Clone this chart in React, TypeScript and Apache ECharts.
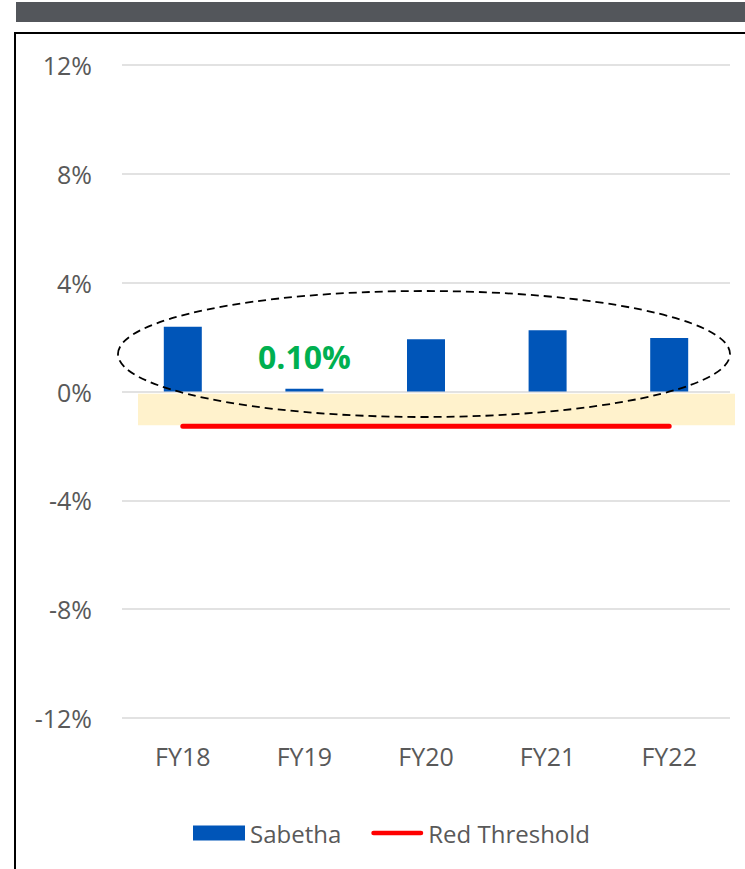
import React, { useEffect, useRef } from "react";
import * as echarts from "echarts";

const categories = ["FY18", "FY19", "FY20", "FY21", "FY22"];
const sabetha = [2.38, 0.1, 1.92, 2.25, 1.97];
const redThreshold = [-1.28, -1.28, -1.28, -1.28, -1.28];
const yTicks = { min: -12, max: 12, interval: 4 };
const bandRange = [-0.08, -1.24];
const highlightIndex = 1;

export default function App() {
  const ref = useRef<HTMLDivElement>(null);
  useEffect(() => {
    if (!ref.current) return;
    document.body.style.margin = "0";
    const chart = echarts.init(ref.current, null, { renderer: "svg" });
    const font = "'Open Sans', 'Noto Sans', sans-serif";
    chart.setOption({
      animation: false,
      textStyle: { fontFamily: font },
      grid: { left: 122, right: 15, top: 65, bottom: 151 },
      legend: {
        left: 188,
        top: 816,
        itemGap: 30,
        itemWidth: 52,
        itemHeight: 15,
        textStyle: { fontSize: 24, color: "#595959", fontFamily: font },
        data: [
          { name: "Sabetha", icon: "rect" },
          {
            name: "Red Threshold",
            icon: "path://M0,0L0,0M0,15L0,15M2.5,5h51a2.5,2.5 0 0 1 0,5h-51a2.5,2.5 0 0 1 0,-5z",
            itemStyle: { color: "#FF0000" },
          },
        ],
      },
      xAxis: {
        type: "category",
        data: categories,
        axisLine: { show: false, onZero: false },
        axisTick: { show: false },
        axisLabel: { fontSize: 25, color: "#595959", margin: 25, fontFamily: font },
      },
      yAxis: {
        type: "value",
        min: yTicks.min,
        max: yTicks.max,
        interval: yTicks.interval,
        axisLabel: {
          formatter: "{value}%",
          fontSize: 25,
          color: "#595959",
          margin: 30,
          padding: [0, 0, 9, 0],
          fontFamily: font,
        },
        splitLine: { lineStyle: { color: "#d9d9d9", width: 1.5 } },
        axisLine: { show: false },
        axisTick: { show: false },
      },
      series: [
        {
          name: "Sabetha",
          type: "bar",
          barWidth: 38,
          itemStyle: { color: "#0055B8" },
          data: sabetha.map((v, i) =>
            i === highlightIndex
              ? {
                  value: v,
                  label: {
                    show: true,
                    position: "top",
                    distance: 16,
                    formatter: (p: any) => p.value.toFixed(2) + "%",
                    fontSize: 32,
                    fontWeight: "bold",
                    color: "#00B050",
                    fontFamily: font,
                  },
                }
              : v
          ),
          z: 3,
        },
        {
          name: "Red Threshold",
          type: "line",
          data: redThreshold,
          symbol: "none",
          lineStyle: { color: "#FF0000", width: 5, cap: "round" },
          itemStyle: { color: "#FF0000" },
          z: 4,
        },
      ],
    });
    const yTop = chart.convertToPixel({ yAxisIndex: 0 }, bandRange[0]) as number;
    const yBot = chart.convertToPixel({ yAxisIndex: 0 }, bandRange[1]) as number;
    chart.setOption({
      graphic: [
        { type: "rect", shape: { x: 16, y: 2, width: 729, height: 20 }, style: { fill: "#53565B" }, z: 0 },
        { type: "line", shape: { x1: 15, y1: 33, x2: 745, y2: 33 }, style: { stroke: "#000", lineWidth: 2 }, z: 0 },
        { type: "line", shape: { x1: 15, y1: 32, x2: 15, y2: 869 }, style: { stroke: "#000", lineWidth: 2 }, z: 0 },
        {
          type: "rect",
          shape: { x: 138, y: yTop, width: 597, height: yBot - yTop },
          style: { fill: "#FFF2CC" },
          z: 1,
        },
        {
          type: "ellipse",
          shape: { cx: 424, cy: 354, rx: 306, ry: 63 },
          style: { fill: "none", stroke: "#000", lineWidth: 1.8, lineDash: [8, 5] },
          z: 10,
        },
      ],
    });
    return () => chart.dispose();
  }, []);
  return <div ref={ref} style={{ position: "absolute", left: 0, top: 0, width: 745, height: 869 }} />;
}
